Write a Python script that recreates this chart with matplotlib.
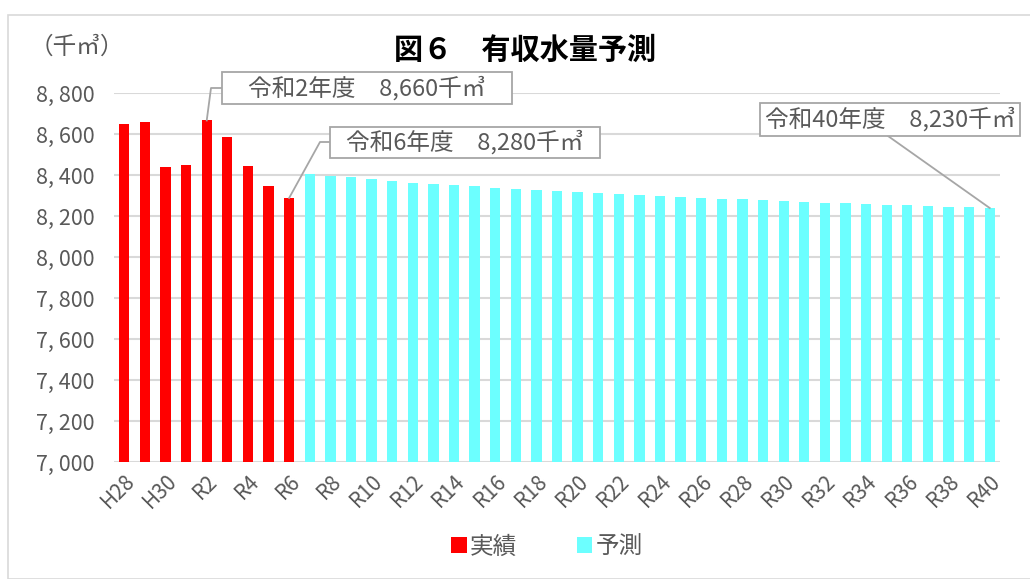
import matplotlib
matplotlib.use("Agg")
import matplotlib.pyplot as plt
from matplotlib.patches import Rectangle
from matplotlib.lines import Line2D

plt.rcParams['font.family'] = ['Noto Sans CJK JP', 'DejaVu Sans']

actual_years = ["H28", "H29", "H30", "R1", "R2", "R3", "R4", "R5", "R6"]
actual_values = [8647, 8659, 8437, 8449, 8666, 8587, 8443, 8344, 8288]

forecast_years = ["R%d" % i for i in range(7, 41)]
forecast_values = [8405, 8397, 8389, 8379, 8371, 8363, 8357, 8349, 8344, 8338,
                   8331, 8327, 8320, 8315, 8311, 8306, 8302, 8299, 8295, 8290,
                   8285, 8282, 8278, 8273, 8269, 8265, 8262, 8259, 8256, 8252,
                   8249, 8246, 8244, 8239]

y_ticks = [7000, 7200, 7400, 7600, 7800, 8000, 8200, 8400, 8600, 8800]
y_ticklabels = ["7, 000", "7, 200", "7, 400", "7, 600", "7, 800",
                "8, 000", "8, 200", "8, 400", "8, 600", "8, 800"]

callouts = [("R2", "令和2年度　8,660千㎥"),
            ("R6", "令和6年度　8,280千㎥"),
            ("R40", "令和40年度　8,230千㎥")]

RED = "#FF0000"
CYAN = "#6CFFFF"
GRAY_TXT = "#595959"
LEADER = "#a6a6a6"

W, H = 1030, 579
fig = plt.figure(figsize=(10.3, 5.79), dpi=100)
ax = fig.add_axes([114/W, 1-462/H, (1000-114)/W, (462-93)/H])

all_years = actual_years + forecast_years
all_values = actual_values + forecast_values
xa = list(range(len(actual_years)))
xf = list(range(len(actual_years), len(all_years)))

ax.bar(xa, actual_values, width=0.5, color=RED, zorder=3, label="実績")
ax.bar(xf, forecast_values, width=0.5, color=CYAN, zorder=3, label="予測")

ax.set_ylim(7000, 8800)
ax.set_xlim(-0.5, len(all_years) - 0.5)
ax.set_yticks(y_ticks)
ax.set_yticklabels(y_ticklabels, fontsize=15.5, color=GRAY_TXT)
ax.yaxis.grid(True, color="#d9d9d9", linewidth=1.5, zorder=0)
ax.set_axisbelow(True)
for s in ax.spines.values():
    s.set_visible(False)
ax.tick_params(axis='y', length=0, pad=14)

ax.set_xticks(range(0, len(all_years), 2))
ax.set_xticklabels(all_years[::2], rotation=45, ha='right', rotation_mode='anchor',
                   fontsize=15, color=GRAY_TXT)
ax.tick_params(axis='x', length=0, pad=6)

# title and unit
fig.text(525/W, 1-50/H, "図６　有収水量予測", ha='center', va='center',
         fontsize=21, fontweight='bold', color='black')
fig.text(30/W, 1-47/H, "（千㎥）", ha='left', va='center', fontsize=17, color=GRAY_TXT)

# callout boxes (pixel boxes: left, top, right, bottom)
boxes = {"R2": (222, 72, 512, 104), "R6": (330, 127, 600, 158), "R40": (760, 103, 1020, 136)}
for yr, label in callouts:
    l, t, r, b = boxes[yr]
    fig.add_artist(Rectangle((l/W, 1-b/H), (r-l)/W, (b-t)/H, transform=fig.transFigure,
                             fc="white", ec=LEADER, lw=1.3, zorder=9))
    fig.text((l+r)/2/W, 1-(t+b)/2/H, label, ha='center', va='center', fontsize=17,
             color=GRAY_TXT, zorder=10)

def data_to_fig(x, y):
    disp = ax.transData.transform((x, y))
    return fig.transFigure.inverted().transform(disp)

i2 = all_years.index("R2")
p = data_to_fig(i2, all_values[i2])
fig.add_artist(Line2D([p[0], 211/W, 222/W], [p[1], 1-88/H, 1-88/H], color=LEADER, lw=1.3))
i6 = all_years.index("R6")
p = data_to_fig(i6, all_values[i6])
fig.add_artist(Line2D([p[0], 320/W, 330/W], [p[1], 1-142/H, 1-142/H], color=LEADER, lw=1.3))
i40 = all_years.index("R40")
p = data_to_fig(i40, all_values[i40])
fig.add_artist(Line2D([p[0], 888/W], [p[1], 1-136/H], color=LEADER, lw=1.3))

# legend
handles = [Rectangle((0, 0), 1, 1, fc=RED), Rectangle((0, 0), 1, 1, fc=CYAN)]
fig.legend(handles, ["実績", "予測"], loc='center', bbox_to_anchor=(547/W, 1-547/H),
           ncol=2, frameon=False, fontsize=17, handlelength=0.65, handleheight=0.65,
           handletextpad=0.15, columnspacing=2.5, labelcolor=GRAY_TXT)

# outer frame
fig.add_artist(Rectangle((8/W, 0), 1.1, 1-15/H, transform=fig.transFigure,
                         fill=False, ec="#d9d9d9", lw=1.2))

fig.savefig("out.png", dpi=100)
